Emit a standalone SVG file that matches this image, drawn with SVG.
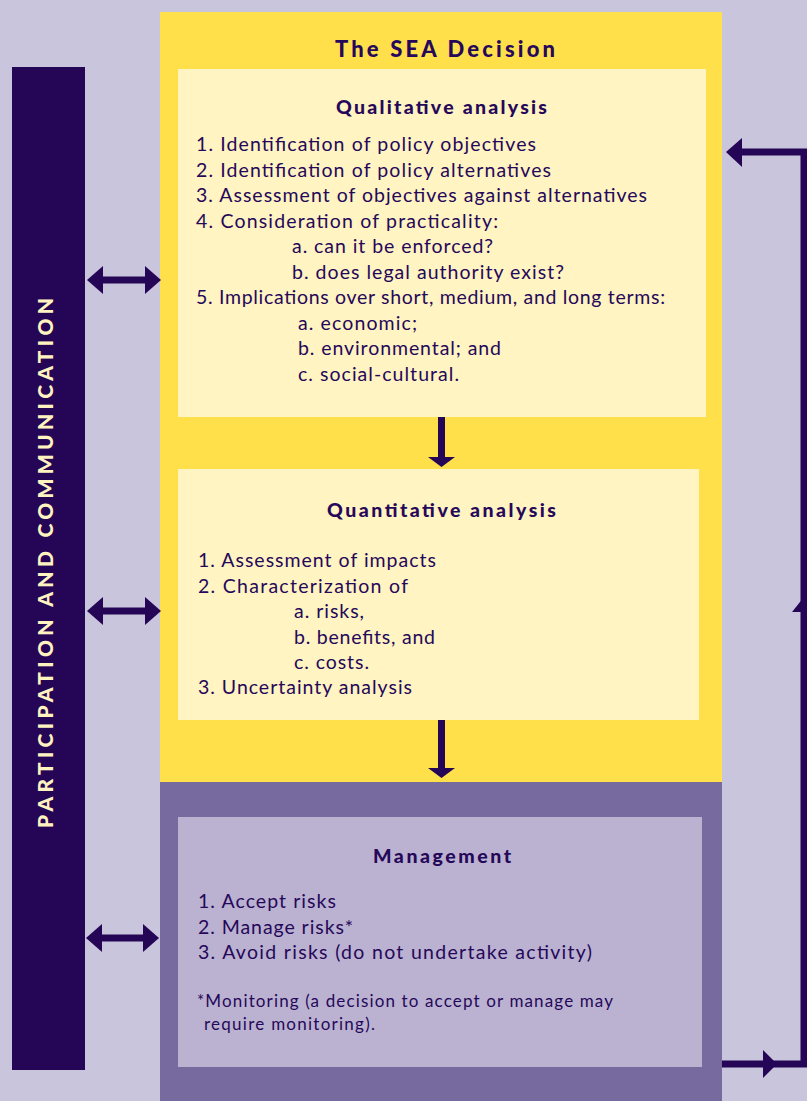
<svg xmlns="http://www.w3.org/2000/svg" width="807" height="1101" viewBox="0 0 807 1101">
<style>
.t{font-family:Lato,"Open Sans",sans-serif;fill:#26085A;font-size:19.5px}
.h{font-family:Lato,"Open Sans",sans-serif;fill:#26085A;font-weight:900;font-size:19.5px}
.n{font-family:Lato,"Open Sans",sans-serif;fill:#26085A;font-size:17px}
.ln{stroke:#250556;stroke-width:7;fill:none}
.hd{fill:#250556}
</style>
<rect width="807" height="1101" fill="#C8C5DC"/>
<g id="sea-decision">
<rect x="160" y="12" width="562" height="770" fill="#FFE04B"/>
<text class="h" x="335" y="57" style="font-size:22px" textLength="220" lengthAdjust="spacing">The SEA Decision</text>
</g>
<g id="management-panel">
<rect x="160" y="782" width="562" height="319" fill="#776A9E"/>
</g>
<g id="participation">
<rect x="12" y="67" width="73" height="1003" fill="#250556"/>
<text transform="translate(53,563) rotate(-90)" x="-265" y="0" textLength="530" lengthAdjust="spacing" style="font-family:Lato,'Open Sans',sans-serif;font-weight:900;font-size:21px;fill:#FFF3C0">PARTICIPATION AND COMMUNICATION</text>
</g>
<g id="qualitative">
<rect x="178" y="69" width="528" height="348" fill="#FFF4C2"/>
<text class="h" x="336" y="114" textLength="211" lengthAdjust="spacing">Qualitative analysis</text>
<text class="t" x="196" y="151" textLength="340" lengthAdjust="spacing">1. Identification of policy objectives</text>
<text class="t" x="196" y="177" textLength="355" lengthAdjust="spacing">2. Identification of policy alternatives</text>
<text class="t" x="196" y="202" textLength="451" lengthAdjust="spacing">3. Assessment of objectives against alternatives</text>
<text class="t" x="196" y="228" textLength="302" lengthAdjust="spacing">4. Consideration of practicality:</text>
<text class="t" x="292" y="253" textLength="201" lengthAdjust="spacing">a. can it be enforced?</text>
<text class="t" x="292" y="279" textLength="272" lengthAdjust="spacing">b. does legal authority exist?</text>
<text class="t" x="196" y="304" textLength="469" lengthAdjust="spacing">5. Implications over short, medium, and long terms:</text>
<text class="t" x="298" y="330" textLength="119" lengthAdjust="spacing">a. economic;</text>
<text class="t" x="298" y="355" textLength="203" lengthAdjust="spacing">b. environmental; and</text>
<text class="t" x="298" y="381" textLength="161" lengthAdjust="spacing">c. social-cultural.</text>
</g>
<g id="quantitative">
<rect x="178" y="469" width="521" height="251" fill="#FFF4C2"/>
<text class="h" x="327" y="517" textLength="229" lengthAdjust="spacing">Quantitative analysis</text>
<text class="t" x="198" y="567" textLength="238" lengthAdjust="spacing">1. Assessment of impacts</text>
<text class="t" x="198" y="593" textLength="210" lengthAdjust="spacing">2. Characterization of</text>
<text class="t" x="294" y="618" textLength="70" lengthAdjust="spacing">a. risks,</text>
<text class="t" x="294" y="644" textLength="141" lengthAdjust="spacing">b. benefits, and</text>
<text class="t" x="294" y="669" textLength="75" lengthAdjust="spacing">c. costs.</text>
<text class="t" x="198" y="694" textLength="214" lengthAdjust="spacing">3. Uncertainty analysis</text>
</g>
<g id="management">
<rect x="178" y="817" width="524" height="250" fill="#BAB2D0"/>
<text class="h" x="373" y="863" textLength="138" lengthAdjust="spacing">Management</text>
<text class="t" x="198" y="908" textLength="138" lengthAdjust="spacing">1. Accept risks</text>
<text class="t" x="198" y="934" textLength="155" lengthAdjust="spacing">2. Manage risks*</text>
<text class="t" x="198" y="959" textLength="394" lengthAdjust="spacing">3. Avoid risks (do not undertake activity)</text>
<text class="n" x="197" y="1007" textLength="416" lengthAdjust="spacing">*Monitoring (a decision to accept or manage may</text>
<text class="n" x="204" y="1030" textLength="171" lengthAdjust="spacing">require monitoring).</text>
</g>
<g id="connectors">
<line class="ln" x1="100" y1="280" x2="148" y2="280"/>
<polygon class="hd" points="87,280 103,266 103,294"/>
<polygon class="hd" points="161,280 145,266 145,294"/>
<line class="ln" x1="100" y1="611" x2="148" y2="611"/>
<polygon class="hd" points="87,611 103,597 103,625"/>
<polygon class="hd" points="161,611 145,597 145,625"/>
<line class="ln" x1="100" y1="938" x2="146" y2="938"/>
<polygon class="hd" points="86,938 102,924 102,952"/>
<polygon class="hd" points="159,938 143,924 143,952"/>
<line class="ln" x1="441.5" y1="417" x2="441.5" y2="460"/>
<polygon class="hd" points="428,457 455,457 441.5,467"/>
<line class="ln" x1="441.5" y1="720" x2="441.5" y2="770"/>
<polygon class="hd" points="428,768 455,768 441.5,778"/>
<polyline class="ln" points="722,1064 804,1064 804,152 740,152"/>
<polygon class="hd" points="763,1050 777,1064 763,1078"/>
<polygon class="hd" points="726,152 742,138 742,167"/>
<polygon class="hd" points="792,612 816,612 804,597"/>
</g>
</svg>
